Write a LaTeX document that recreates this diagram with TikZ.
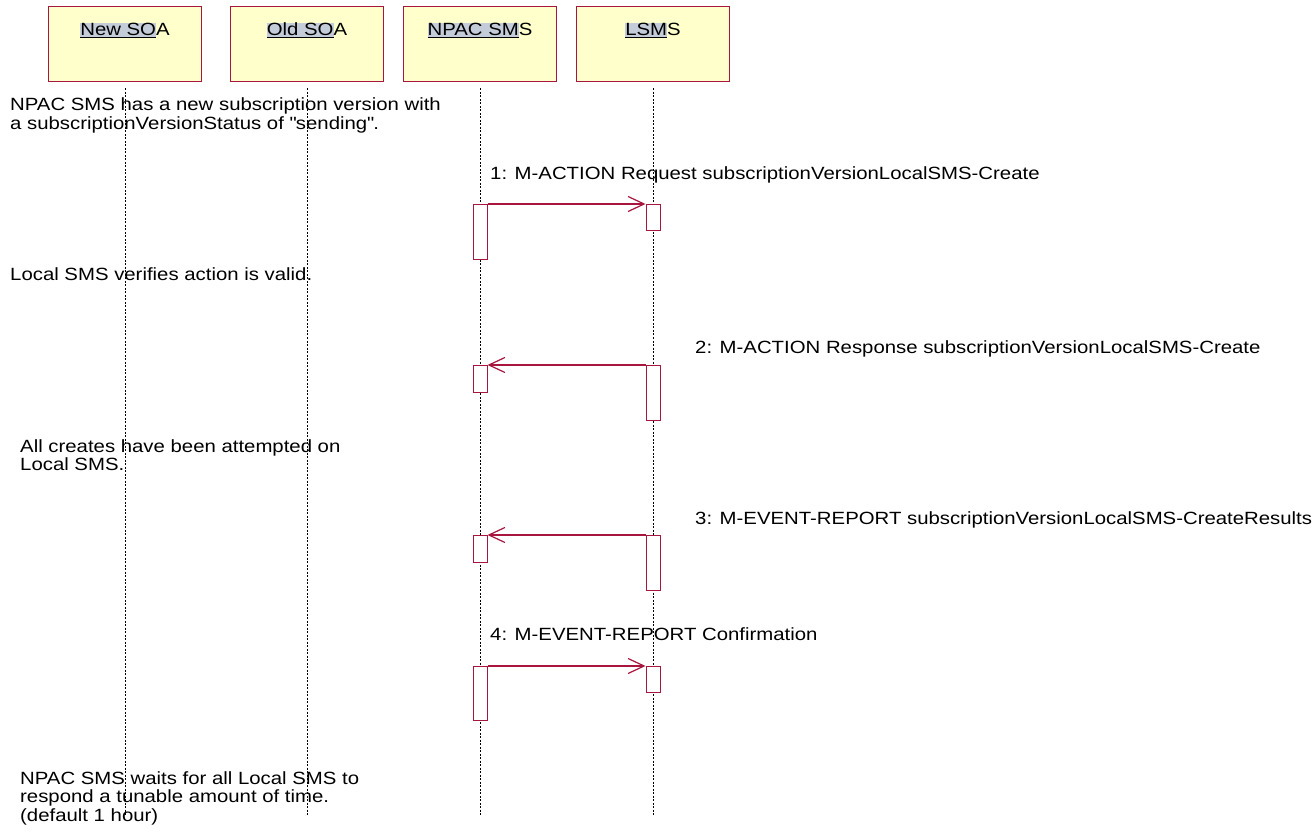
\documentclass[tikz,border=0pt]{standalone}
\usepackage{fontspec}
\setmainfont{Liberation Sans}[FakeStretch=1.15]
\usetikzlibrary{arrows.meta,positioning}
\definecolor{seqRed}{HTML}{A8153F}
\definecolor{seqFill}{HTML}{FFFFCC}
\definecolor{seqSel}{HTML}{C3CCD8}
\newcommand\selpart[1]{{\setlength{\fboxsep}{0pt}\colorbox{seqSel}{\underline{#1}}}}
\tikzset{
    every picture/.style={x=1pt,y=-1pt},
    % participants and their lifelines
    actor/.style={draw=seqRed,fill=seqFill,line width=1pt,minimum width=153pt,inner sep=0pt,text height=28.5pt,text depth=46.5pt},
    lifeline/.style={draw=black,line width=0.8pt,dash pattern=on 2pt off 1.5pt},
    activation/.style={draw=seqRed,fill=white,line width=1pt,minimum width=14pt,inner sep=0pt,anchor=north},
    % messages
    msg/.style={seqRed,line width=1.2pt,-{Straight Barb[length=16pt,width=15pt,line width=1.2pt]}},
    msglabel/.style={anchor=base west,inner sep=0pt},
    note/.style={anchor=base west,inner sep=0pt,align=left} % base = last line
}

\begin{document}
\begin{tikzpicture}[font=\fontsize{17.7}{18.5}\selectfont]
  \fill[white] (0,0) rectangle (1312,834);
  \useasboundingbox (0,0) rectangle (1312,834);

  % Participants
  \node[actor] (newsoa) at (125,44.5) {\selpart{New SO}A};
  \node[actor,right=28pt of newsoa] (oldsoa) {\selpart{Old SO}A};
  \node[actor,right=19pt of oldsoa] (npac) {\selpart{NPAC SM}S};
  \node[actor,right=19pt of npac] (lsms) {\selpart{LSM}S};

  % Rows of the messages
  \coordinate (m1) at (0,204);
  \coordinate (m2) at (0,365);
  \coordinate (m3) at (0,535);
  \coordinate (m4) at (0,666);
  \coordinate (bottom) at (0,815);

  % Lifelines
  \draw[lifeline] ([yshift=-6pt]newsoa.south) -- (newsoa |- bottom);
  \draw[lifeline] ([yshift=-6pt]oldsoa.south) -- (oldsoa |- bottom);
  \draw[lifeline] ([yshift=-6pt]npac.south) -- (npac |- bottom);
  \draw[lifeline] ([yshift=-6pt]lsms.south) -- (lsms |- bottom);

  % Notes
  \node[note] (note1) at (10,129.5) {NPAC SMS has a new subscription version with\\a subscriptionVersionStatus of \textquotedbl sending\textquotedbl.};
  \node[note] (note2) at (10,281) {Local SMS verifies action is valid.};
  \node[note] (note3) at (20,470.5) {All creates have been attempted on\\Local SMS.};
  \node[note] (note4) at (20,821) {NPAC SMS waits for all Local SMS to\\respond a tunable amount of time.\\(default 1 hour)};

  % 1: request
  \node[activation,minimum height=55pt] (a1n) at (npac |- m1) {};
  \node[activation,minimum height=26pt] (a1l) at (lsms |- m1) {};
  \draw[msg] (a1n.north east) -- (a1l.north west);
  \node[msglabel] (lab1) at (490,180) {1: M-ACTION Request subscriptionVersionLocalSMS-Create};

  % 2: response
  \node[activation,minimum height=55pt] (a2l) at (lsms |- m2) {};
  \node[activation,minimum height=27pt] (a2n) at (npac |- m2) {};
  \draw[msg] (a2l.north west) -- (a2n.north east);
  \node[msglabel] (lab2) at (695,353) {2: M-ACTION Response subscriptionVersionLocalSMS-Create};

  % 3: event report
  \node[activation,minimum height=55pt] (a3l) at (lsms |- m3) {};
  \node[activation,minimum height=27pt] (a3n) at (npac |- m3) {};
  \draw[msg] (a3l.north west) -- (a3n.north east);
  \node[msglabel] (lab3) at (695,524) {3: M-EVENT-REPORT subscriptionVersionLocalSMS-CreateResults};

  % 4: confirmation
  \node[activation,minimum height=54pt] (a4n) at (npac |- m4) {};
  \node[activation,minimum height=26pt] (a4l) at (lsms |- m4) {};
  \draw[msg] (a4n.north east) -- (a4l.north west);
  \node[msglabel] (lab4) at (490,640) {4: M-EVENT-REPORT Confirmation};
\end{tikzpicture}
\end{document}
